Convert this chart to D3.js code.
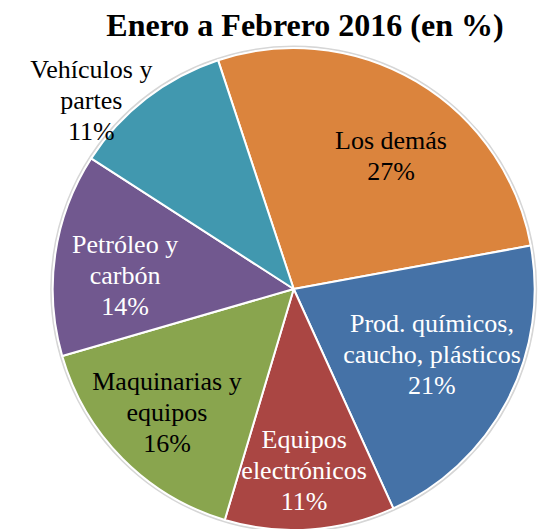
<!DOCTYPE html>
<html>
<head>
<meta charset="utf-8">
<script src="https://cdn.jsdelivr.net/npm/d3@7"></script>
<style>
  body { margin: 0; background: #fff; }
</style>
</head>
<body>
<div id="chart"></div>
<script>
var title = "Enero a Febrero 2016 (en %)";

var categories = [
  ["Los demás"],
  ["Prod. químicos,", "caucho, plásticos"],
  ["Equipos", "electrónicos"],
  ["Maquinarias y", "equipos"],
  ["Petróleo y", "carbón"],
  ["Vehículos y", "partes"]
];
var values = [27.2, 21.1, 11.4, 15.9, 13.6, 10.8];

var colors = ["#DB843D", "#4572A7", "#AA4643", "#89A54E", "#71588F", "#4198AF"];
var labelColors = ["#000", "#fff", "#fff", "#000", "#fff", "#000"];
// label radius (fraction of pie radius) and angle nudge in degrees
var labelLayout = [[0.684, 5.5], [0.634, -2.4], [0.752, 0.6], [0.733, 0.6], [0.702, -3.6], [1.149, -9.2]];

var font = "'Liberation Serif', 'Times New Roman', serif";

var width = 542, height = 529,
    cx = 293.7, cy = 289, radius = 241;

var svg = d3.select("#chart")
  .append("svg")
  .attr("width", width)
  .attr("height", height);

svg.append("text")
  .attr("x", 305)
  .attr("y", 36)
  .attr("text-anchor", "middle")
  .attr("font-family", font)
  .attr("font-size", 32)
  .attr("font-weight", "bold")
  .text(title);

var g = svg.append("g")
  .attr("transform", "translate(" + cx + "," + cy + ")");

var deg = Math.PI / 180;
var startAngle = -18.3 * deg;

var pie = d3.pie()
  .sort(null)
  .startAngle(startAngle)
  .endAngle(startAngle + 2 * Math.PI)
  .value(function(d) { return d; });

var arc = d3.arc().innerRadius(0).outerRadius(radius);

var arcs = pie(values);

g.append("circle")
  .attr("r", radius + 1.5)
  .attr("fill", "none")
  .attr("stroke", "#d6d6d6")
  .attr("stroke-width", 2);

g.selectAll("path.slice")
  .data(arcs)
  .enter().append("path")
  .attr("class", "slice")
  .attr("d", arc)
  .attr("fill", function(d, i) { return colors[i]; })
  .attr("stroke", "#fff")
  .attr("stroke-width", 2)
  .attr("stroke-linejoin", "round");

var fmt = d3.format(".0f");
var lineH = 31;

var labels = g.selectAll("text.lbl")
  .data(arcs)
  .enter().append("text")
  .attr("class", "lbl")
  .attr("text-anchor", "middle")
  .attr("font-family", font)
  .attr("font-size", 26)
  .attr("fill", function(d, i) { return labelColors[i]; })
  .attr("transform", function(d, i) {
    var a = (d.startAngle + d.endAngle) / 2 + labelLayout[i][1] * deg;
    var r = radius * labelLayout[i][0];
    return "translate(" + (r * Math.sin(a)) + "," + (-r * Math.cos(a)) + ")";
  });

labels.each(function(d, i) {
  var lines = categories[i].concat([fmt(values[i]) + "%"]);
  var t = d3.select(this);
  var y0 = -(lines.length - 1) * lineH / 2 + 9;
  lines.forEach(function(s, j) {
    t.append("tspan")
      .attr("x", 0)
      .attr("y", y0 + j * lineH)
      .text(s);
  });
});
</script>
</body>
</html>
